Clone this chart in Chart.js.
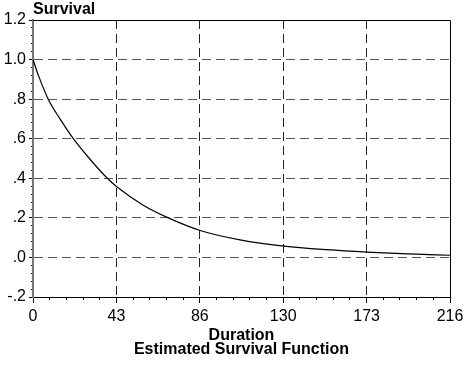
<!DOCTYPE html>
<html>
<head>
<meta charset="utf-8">
<script src="https://cdn.jsdelivr.net/npm/chart.js@4"></script>
<style>
  body { margin: 0; background: #fff; }
  #wrap { width: 472px; height: 366px; }
</style>
</head>
<body>
<div id="wrap"><canvas id="survival-chart"></canvas></div>
<script>
// Survival curve
const duration = [0, 2.8, 7.9, 14.0, 20.9, 29.2, 38.5, 43.4, 57.1, 70.1, 87.0, 107.2, 130, 152, 173, 195, 216];
const survival = [1.0, 0.92, 0.8, 0.7, 0.6, 0.5, 0.4, 0.357, 0.264, 0.2, 0.135, 0.089, 0.057, 0.039, 0.027, 0.018, 0.011];

// Axis ticks
const xTicks = [0, 43.2, 86.4, 129.6, 172.8, 216];
const yTicks = [-0.2, 0, 0.2, 0.4, 0.6, 0.8, 1.0, 1.2];

const FONT = "'Liberation Sans', Arial, sans-serif";
Chart.defaults.font.family = FONT;
Chart.defaults.color = "#000";

// top and right edges of the plot frame
const framePlugin = {
  id: "frame",
  afterDatasetsDraw(chart) {
    const { ctx, chartArea: a } = chart;
    ctx.save();
    ctx.strokeStyle = "#000";
    ctx.lineWidth = 1;
    ctx.beginPath();
    ctx.moveTo(a.left, a.top + 0.5);
    ctx.lineTo(a.right + 0.5, a.top + 0.5);
    ctx.lineTo(a.right + 0.5, a.bottom);
    ctx.stroke();
    ctx.restore();
  },
};

function yLabel(v) {
  return v.toFixed(1).replace(/^(-?)0\./, "$1.");
}

const ctx = document.getElementById("survival-chart").getContext("2d");
new Chart(ctx, {
  type: "line",
  data: {
    datasets: [
      {
        data: duration.map((d, i) => ({ x: d, y: survival[i] })),
        borderColor: "#000",
        borderWidth: 1.2,
        pointRadius: 0,
        fill: false,
        cubicInterpolationMode: "monotone",
        xAxisID: "x",
        yAxisID: "y",
      },
    ],
  },
  options: {
    responsive: true,
    maintainAspectRatio: false,
    animation: false,
    layout: { padding: { left: 0, right: 22, top: 0, bottom: 0 } },
    plugins: {
      legend: { display: false },
      tooltip: { enabled: false },
      title: {
        display: true,
        text: "Survival",
        position: "top",
        align: "start",
        fullSize: false,
        color: "#000",
        font: { size: 16, weight: "bold", lineHeight: 1.125 },
        padding: { top: 1, bottom: 1 },
      },
    },
    scales: {
      xMinor: {
        type: "linear",
        position: "bottom",
        weight: 0,
        min: 0,
        max: 216,
        ticks: { display: false, stepSize: 8.64 },
        grid: { drawOnChartArea: false, tickLength: 3, color: "#000" },
        border: { display: false },
        afterFit(s) { s.height = 0; },
      },
      x: {
        type: "linear",
        position: "bottom",
        weight: 1,
        min: 0,
        max: 216,
        afterBuildTicks(s) { s.ticks = xTicks.map((v) => ({ value: v })); },
        afterFit(s) { s.height = 69; },
        ticks: {
          padding: 4,
          maxRotation: 0,
          font: { size: 16 },
          callback: (v) => String(Math.round(v)),
        },
        grid: {
          color: (c) => (c.tick && (c.tick.value === 0 || c.tick.value === 216) ? "rgba(0,0,0,0)" : "#222"),
          tickColor: "#000",
          tickLength: 6,
          lineWidth: 1,
        },
        border: { display: true, color: "#000", width: 1, dash: [9, 5] },
        title: {
          display: true,
          text: ["Duration", "Estimated Survival Function"],
          color: "#000",
          font: { size: 16, weight: "bold", lineHeight: 0.875 },
          padding: { top: 0, bottom: 9 },
        },
      },
      yMinor: {
        type: "linear",
        position: "left",
        weight: 0,
        min: -0.2,
        max: 1.2,
        ticks: { display: false, stepSize: 0.04 },
        grid: { drawOnChartArea: false, tickLength: 2, color: "#000" },
        border: { display: false },
        afterFit(s) { s.width = 0; },
      },
      y: {
        type: "linear",
        position: "left",
        weight: 1,
        min: -0.2,
        max: 1.2,
        afterBuildTicks(s) { s.ticks = yTicks.map((v) => ({ value: v })); },
        afterFit(s) { s.width = 33; },
        ticks: { padding: 3, font: { size: 16 }, callback: (v) => yLabel(v) },
        grid: {
          color: (c) => (c.tick && (c.tick.value === 1.2 || c.tick.value === -0.2) ? "rgba(0,0,0,0)" : "#555"),
          tickColor: "#000",
          tickLength: 4,
          lineWidth: 1,
        },
        border: { display: true, color: "#777", width: 2, dash: [9, 5] },
      },
    },
  },
  plugins: [framePlugin],
});
</script>
</body>
</html>
